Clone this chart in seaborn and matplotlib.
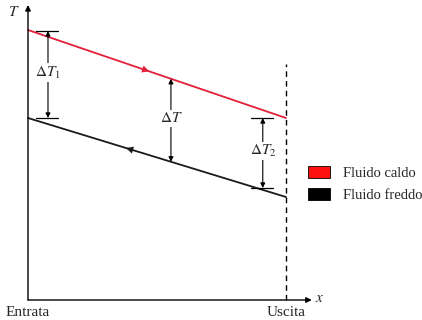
import matplotlib
matplotlib.use("Agg")
import matplotlib.pyplot as plt
import seaborn as sns
import pandas as pd
from matplotlib.patches import Patch

sns.set_theme(style="white")
plt.rcParams['font.family'] = ['Liberation Serif', 'DejaVu Serif']
plt.rcParams['mathtext.fontset'] = 'stix'

# Data (schematic temperature profiles along exchanger)
positions = [0.0, 1.0]
hot_T = [270, 182]
cold_T = [182, 103]
series = ["Fluido caldo", "Fluido freddo"]
colors = ["#e3203a", "#1a1a1a"]
x_labels = ["Entrata", "Uscita"]

df = pd.DataFrame({
    "x": positions * 2,
    "T": hot_T + cold_T,
    "fluid": [series[0]] * 2 + [series[1]] * 2,
})

fig = plt.figure(figsize=(4.22, 3.2), dpi=100)
ax = fig.add_axes([0, 0, 1, 1])
sns.lineplot(data=df, x="x", y="T", hue="fluid", palette=colors, ax=ax,
             legend=False, linewidth=1.3)
ax.set_xlim(-28 / 258, 394 / 258)
ax.set_ylim(-20, 300)
ax.axis("off")

def interp(vals, xx):
    return vals[0] + (vals[1] - vals[0]) * xx

# flow direction arrows
for vals, c, x0, x1 in [(hot_T, colors[0], 0.40, 0.47), (cold_T, colors[1], 0.45, 0.38)]:
    ax.annotate("", xy=(x1, interp(vals, x1)), xytext=(x0, interp(vals, x0)),
                arrowprops=dict(arrowstyle="-|>", color=c, lw=0, mutation_scale=13,
                                shrinkA=0, shrinkB=0))

# axes
ax.annotate("", xy=(0, 295), xytext=(0, 0),
            arrowprops=dict(arrowstyle="-|>", color="black", lw=1.0, mutation_scale=8,
                            shrinkA=0, shrinkB=0))
ax.annotate("", xy=(1.10, 0), xytext=(0, 0),
            arrowprops=dict(arrowstyle="-|>", color="black", lw=1.0, mutation_scale=8,
                            shrinkA=0, shrinkB=0))
ax.text(-0.055, 288, "$T$", fontsize=11, ha="center", va="center")
ax.text(1.112, 1, "$x$", fontsize=11, ha="left", va="center")
ax.plot([1, 1], [0, 236], color="black", lw=1.0, linestyle=(0, (4, 3)))
ax.text(0, -12, x_labels[0], fontsize=11, ha="center", va="center")
ax.text(1, -12, x_labels[1], fontsize=11, ha="center", va="center")

def dim(xp, y_top, y_bot, label, caps):
    ax.annotate("", xy=(xp, y_top), xytext=(xp, y_bot),
                arrowprops=dict(arrowstyle="<|-|>", color="black", lw=0.8,
                                mutation_scale=7, shrinkA=0, shrinkB=0))
    if caps:
        for yy in (y_top, y_bot):
            ax.plot([xp - 0.045, xp + 0.04], [yy, yy], color="black", lw=0.9)
    ax.text(xp, (y_top + y_bot) / 2 + 2, label, fontsize=11, ha="center", va="center",
            bbox=dict(facecolor="white", edgecolor="none", pad=1.0))

dim(0.0775, 269, 182, r"$\Delta T_1$", True)
xm = 0.554
dim(xm, interp(hot_T, xm), interp(cold_T, xm), r"$\Delta T$", False)
dim(0.91, 182, 112, r"$\Delta T_2$", True)

handles = [Patch(facecolor=c, edgecolor="black", linewidth=0.6) for c in ["#ff1010", "#000000"]]
ax.legend(handles, series, loc="upper left", bbox_to_anchor=(302 / 422, 1 - 160 / 320),
          frameon=False, fontsize=10.5, handlelength=1.5, handleheight=0.9,
          handletextpad=0.9, labelspacing=0.55, borderaxespad=0)

fig.savefig("out.png", dpi=100)
